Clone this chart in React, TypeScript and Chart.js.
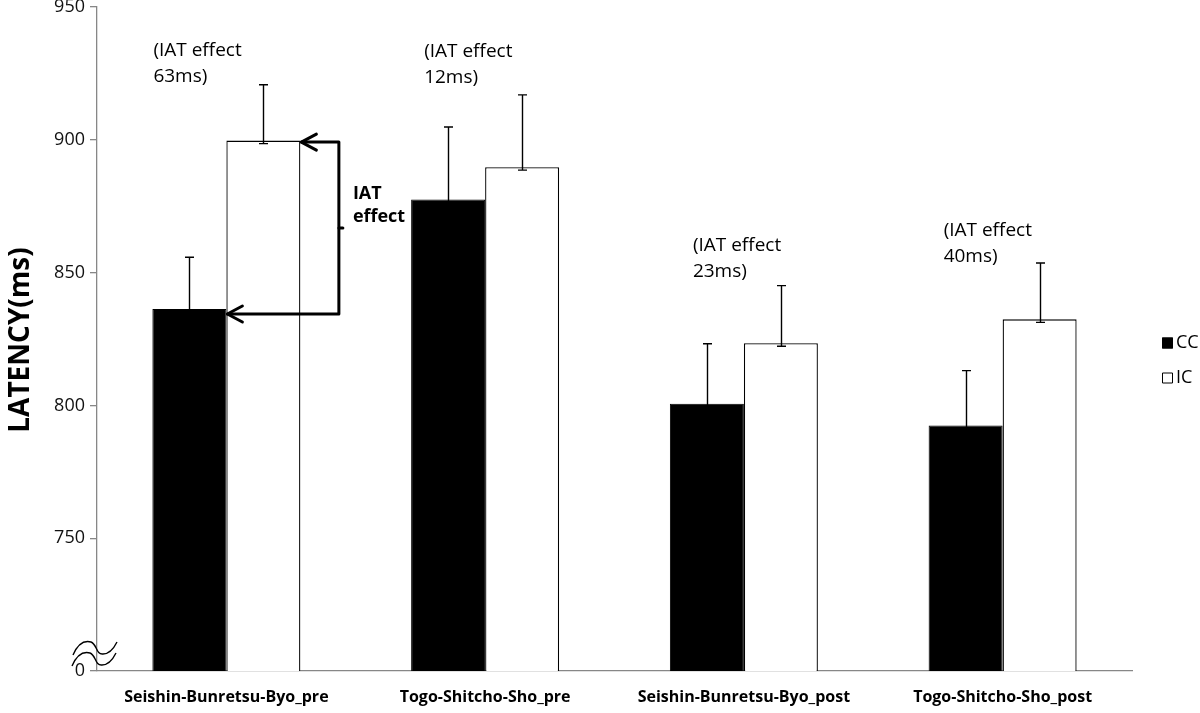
import React, { useEffect, useRef } from "react";
import { Chart, registerables } from "chart.js";

Chart.register(...registerables);

// ---------- data ----------
const CATEGORIES = [
  "Seishin-Bunretsu-Byo_pre",
  "Togo-Shitcho-Sho_pre",
  "Seishin-Bunretsu-Byo_post",
  "Togo-Shitcho-Sho_post",
];
const SERIES_NAMES = ["CC", "IC"];
const CC_MEANS = [836.3, 877.5, 800.6, 792.4];
const IC_MEANS = [899.7, 889.7, 823.4, 832.4];
const CC_ERR = [19.5, 27.3, 22.6, 20.7];
const IC_ERR = [21.0, 27.2, 21.7, 21.2];
const Y_TICK_VALUES = [700, 750, 800, 850, 900, 950];
const Y_TICK_LABELS = ["0", "750", "800", "850", "900", "950"];
const EFFECT_TEXT = [
  ["(IAT effect", "63ms)"],
  ["(IAT effect", "12ms)"],
  ["(IAT effect", "23ms)"],
  ["(IAT effect", "40ms)"],
];
const EFFECT_TEXT_VALUE = [933.6, 933.2, 860.0, 866.0];
const BRACKET_TEXT = ["IAT", "effect"];
const Y_TITLE = "LATENCY(ms)";

// ---------- layout / style constants ----------
const EFFECT_TEXT_DX = [-73, -61, -51, -59];
const FONT = "'Open Sans', 'Liberation Sans', sans-serif";
const AXIS_GREY = "#878787";

const decorPlugin = {
  id: "decor",
  afterDatasetsDraw(chart: any) {
    const ctx = chart.ctx;
    const y = chart.scales.y;
    const errs = [CC_ERR, IC_ERR];
    ctx.save();
    ctx.strokeStyle = "#000";
    ctx.lineWidth = 1.4;
    chart.data.datasets.forEach((ds: any, d: number) => {
      const meta = chart.getDatasetMeta(d);
      meta.data.forEach((bar: any, i: number) => {
        const v = ds.data[i];
        const top = y.getPixelForValue(v + errs[d][i]);
        const base = y.getPixelForValue(v) + 3;
        const x = Math.round(bar.x) + 0.5;
        ctx.beginPath();
        ctx.moveTo(x, base);
        ctx.lineTo(x, top);
        ctx.moveTo(x - 4.5, top);
        ctx.lineTo(x + 4.5, top);
        ctx.moveTo(x - 4.5, base);
        ctx.lineTo(x + 4.5, base);
        ctx.stroke();
      });
    });
    ctx.restore();
  },
  afterDraw(chart: any) {
    const ctx = chart.ctx;
    const xs = chart.scales.x;
    const ys = chart.scales.y;
    const area = chart.chartArea;
    ctx.save();

    // effect annotations
    ctx.fillStyle = "#000";
    ctx.font = `19px ${FONT}`;
    ctx.textAlign = "left";
    ctx.textBaseline = "middle";
    EFFECT_TEXT.forEach((lines, i) => {
      const x0 = xs.getPixelForValue(i) + EFFECT_TEXT_DX[i];
      const y0 = ys.getPixelForValue(EFFECT_TEXT_VALUE[i]);
      lines.forEach((t, k) => ctx.fillText(t, x0, y0 + k * 26));
    });

    // bracket arrow between CC and IC of first category
    const ccBar: any = chart.getDatasetMeta(0).data[0];
    const icBar: any = chart.getDatasetMeta(1).data[0];
    const topY = ys.getPixelForValue(IC_MEANS[0]) + 1.5;
    const botY = ys.getPixelForValue(CC_MEANS[0]) + 5;
    const icRight = icBar.x + icBar.width / 2;
    const ccRight = ccBar.x + ccBar.width / 2;
    const vx = icRight + 38.5;
    ctx.strokeStyle = "#000";
    ctx.lineWidth = 3;
    ctx.lineJoin = "round";
    ctx.lineCap = "round";
    ctx.beginPath();
    ctx.moveTo(icRight + 1, topY);
    ctx.lineTo(vx, topY);
    ctx.lineTo(vx, botY);
    ctx.lineTo(ccRight + 1, botY);
    ctx.stroke();
    const head = (tx: number, ty: number) => {
      ctx.beginPath();
      ctx.moveTo(tx + 16, ty - 8);
      ctx.lineTo(tx + 1, ty);
      ctx.lineTo(tx + 16, ty + 8);
      ctx.stroke();
    };
    head(icRight, topY);
    head(ccRight, botY);
    const midY = (topY + botY) / 2;
    ctx.beginPath();
    ctx.moveTo(vx, midY);
    ctx.lineTo(vx + 4, midY);
    ctx.stroke();
    ctx.font = `bold 18px ${FONT}`;
    ctx.textBaseline = "middle";
    ctx.fillText(BRACKET_TEXT[0], vx + 14, midY - 34);
    ctx.fillText(BRACKET_TEXT[1], vx + 14, midY - 11);

    // y-axis title
    ctx.save();
    ctx.translate(21, 340);
    ctx.rotate(-Math.PI / 2);
    ctx.font = `bold 28px ${FONT}`;
    ctx.textAlign = "center";
    ctx.textBaseline = "middle";
    ctx.fillText(Y_TITLE, 0, 0);
    ctx.restore();

    // axis break symbol
    const bx = area.left;
    const by = ys.getPixelForValue(700) - 23;
    ctx.lineWidth = 1.4;
    ctx.lineCap = "butt";
    const wave = (ox: number, oy: number) => {
      ctx.beginPath();
      ctx.moveTo(bx - 24 + ox, by + 7 + oy);
      ctx.quadraticCurveTo(bx - 17 + ox, by - 9 + oy, bx - 6 + ox, by - 6 + oy);
      ctx.bezierCurveTo(bx + 0 + ox, by - 4 + oy, bx - 1 + ox, by + 7 + oy, bx + 6 + ox, by + 6 + oy);
      ctx.quadraticCurveTo(bx + 14 + ox, by + 6 + oy, bx + 20 + ox, by - 6 + oy);
      ctx.stroke();
    };
    wave(0, 0);
    wave(-1, 11);

    // legend
    ctx.font = `18px ${FONT}`;
    ctx.textAlign = "left";
    ctx.textBaseline = "middle";
    chart.data.datasets.forEach((ds: any, d: number) => {
      const ly = 343 + d * 35;
      const lx = 1162;
      ctx.fillStyle = ds.backgroundColor;
      ctx.fillRect(lx, ly - 5.5, 11, 11);
      ctx.strokeStyle = "#000";
      ctx.lineWidth = 1;
      ctx.strokeRect(lx + 0.5, ly - 5, 10, 10);
      ctx.fillStyle = "#000";
      ctx.fillText(ds.label, lx + 14, ly);
    });

    ctx.restore();
  },
};

export default function App() {
  const canvasRef = useRef<HTMLCanvasElement | null>(null);

  useEffect(() => {
    document.body.style.margin = "0";
    Chart.defaults.font.family = FONT;
    const chart = new Chart(canvasRef.current as HTMLCanvasElement, {
      type: "bar",
      data: {
        labels: CATEGORIES,
        datasets: [
          {
            label: SERIES_NAMES[0],
            data: CC_MEANS,
            backgroundColor: "#000000",
            borderColor: "#000000",
            borderWidth: 1,
            categoryPercentage: 0.572,
            barPercentage: 1,
          },
          {
            label: SERIES_NAMES[1],
            data: IC_MEANS,
            backgroundColor: "#ffffff",
            borderColor: "#000000",
            borderWidth: 1.3,
            categoryPercentage: 0.572,
            barPercentage: 1,
          },
        ],
      },
      options: {
        animation: false,
        responsive: true,
        maintainAspectRatio: false,
        layout: { padding: { top: 7, right: 68, left: 0, bottom: 0 } },
        plugins: {
          legend: { display: false },
          tooltip: { enabled: false },
          title: { display: false },
        },
        scales: {
          x: {
            grid: { display: false, drawTicks: false },
            border: { display: true, color: AXIS_GREY, width: 1.3 },
            ticks: {
              color: "#000",
              font: { size: 16, weight: "bold" },
              padding: 17,
              maxRotation: 0,
              autoSkip: false,
            },
            afterFit(scale: any) {
              scale.height = 42;
              scale.paddingLeft = 0;
              scale.paddingRight = 0;
            },
          },
          y: {
            min: 700,
            max: 950,
            afterBuildTicks(scale: any) {
              scale.ticks = Y_TICK_VALUES.map((v) => ({ value: v }));
            },
            ticks: {
              color: "#111",
              font: { size: 18 },
              padding: 5,
              callback: (v: any) => {
                const idx = Y_TICK_VALUES.indexOf(Number(v));
                return idx >= 0 ? Y_TICK_LABELS[idx] : "";
              },
            },
            grid: {
              drawOnChartArea: false,
              drawTicks: true,
              tickLength: 7,
              color: AXIS_GREY,
              lineWidth: 1.3,
            },
            border: { display: true, color: AXIS_GREY, width: 1.3 },
            afterFit(scale: any) {
              scale.width = 97;
              scale.paddingTop = 0;
              scale.paddingBottom = 0;
            },
          },
        },
      },
      plugins: [decorPlugin],
    } as any);
    return () => chart.destroy();
  }, []);

  return (
    <div style={{ position: "fixed", left: 0, top: 0, width: 1200, height: 713, background: "#fff" }}>
      <canvas ref={canvasRef} />
    </div>
  );
}
